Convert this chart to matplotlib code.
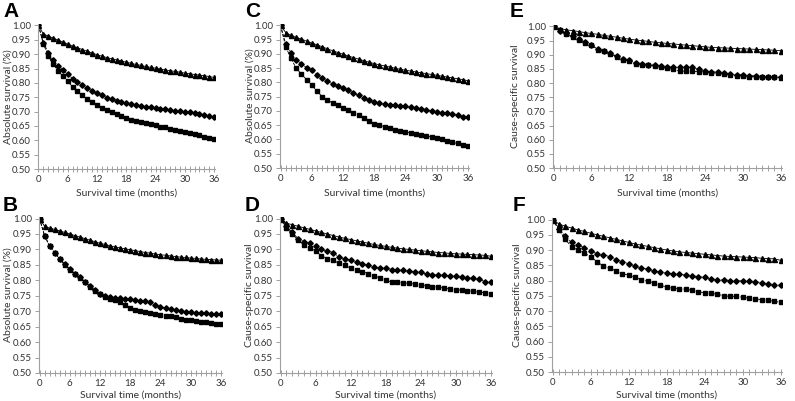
import numpy as np
import matplotlib
matplotlib.use("Agg")
import matplotlib.pyplot as plt
from matplotlib.ticker import MultipleLocator

# Meses 0..36
meses = list(range(37))

# Panel A - supervivencia absoluta
a_tri = [1.000, 0.970, 0.963, 0.956, 0.949, 0.942, 0.935, 0.928, 0.922, 0.916, 0.910, 0.904, 0.898,
         0.893, 0.888, 0.884, 0.880, 0.876, 0.872, 0.868, 0.864, 0.861, 0.857, 0.854, 0.851,
         0.848, 0.845, 0.842, 0.840, 0.837, 0.834, 0.832, 0.829, 0.827, 0.825, 0.822, 0.819]
a_dia = [1.000, 0.940, 0.905, 0.878, 0.860, 0.845, 0.830, 0.815, 0.802, 0.791, 0.781, 0.772, 0.764,
         0.756, 0.749, 0.743, 0.738, 0.733, 0.729, 0.725, 0.722, 0.720, 0.717, 0.715, 0.712,
         0.710, 0.708, 0.705, 0.703, 0.701, 0.699, 0.697, 0.694, 0.692, 0.688, 0.684, 0.682]
a_sq = [1.000, 0.935, 0.895, 0.865, 0.843, 0.823, 0.805, 0.786, 0.770, 0.756, 0.745, 0.733, 0.723,
        0.713, 0.705, 0.697, 0.690, 0.683, 0.677, 0.672, 0.667, 0.663, 0.659, 0.655, 0.652,
        0.648, 0.645, 0.641, 0.637, 0.633, 0.630, 0.626, 0.622, 0.618, 0.613, 0.608, 0.604]

# Panel B - supervivencia absoluta
b_tri = [1.000, 0.975, 0.969, 0.965, 0.960, 0.955, 0.950, 0.945, 0.940, 0.935, 0.930, 0.925, 0.920,
         0.916, 0.912, 0.908, 0.905, 0.902, 0.899, 0.896, 0.893, 0.890, 0.888, 0.885, 0.883,
         0.881, 0.879, 0.877, 0.875, 0.874, 0.872, 0.871, 0.869, 0.868, 0.867, 0.866, 0.865]
b_dia = [1.000, 0.945, 0.912, 0.890, 0.870, 0.852, 0.837, 0.822, 0.810, 0.796, 0.782, 0.768, 0.757,
         0.750, 0.746, 0.744, 0.743, 0.740, 0.738, 0.735, 0.733, 0.733, 0.730, 0.721, 0.715,
         0.710, 0.706, 0.703, 0.700, 0.698, 0.697, 0.695, 0.694, 0.693, 0.692, 0.692, 0.692]
b_sq = [1.000, 0.945, 0.910, 0.888, 0.868, 0.850, 0.835, 0.820, 0.808, 0.794, 0.780, 0.766, 0.755,
        0.747, 0.741, 0.735, 0.729, 0.720, 0.712, 0.705, 0.700, 0.696, 0.693, 0.690, 0.687,
        0.685, 0.683, 0.680, 0.676, 0.673, 0.670, 0.668, 0.665, 0.664, 0.662, 0.660, 0.658]

# Panel C - supervivencia absoluta
c_tri = [1.000, 0.975, 0.965, 0.958, 0.952, 0.945, 0.938, 0.932, 0.925, 0.918, 0.911, 0.905, 0.899,
         0.893, 0.887, 0.882, 0.876, 0.871, 0.866, 0.862, 0.858, 0.854, 0.850, 0.846, 0.843,
         0.840, 0.837, 0.834, 0.831, 0.828, 0.825, 0.822, 0.819, 0.816, 0.813, 0.810, 0.806]
c_dia = [1.000, 0.935, 0.905, 0.880, 0.865, 0.852, 0.842, 0.825, 0.815, 0.805, 0.795, 0.788, 0.780,
         0.772, 0.763, 0.755, 0.745, 0.738, 0.733, 0.728, 0.725, 0.722, 0.720, 0.718, 0.716,
         0.713, 0.710, 0.708, 0.705, 0.700, 0.696, 0.694, 0.692, 0.690, 0.685, 0.680, 0.678]
c_sq = [1.000, 0.925, 0.885, 0.850, 0.830, 0.810, 0.790, 0.770, 0.750, 0.738, 0.728, 0.720, 0.712,
        0.703, 0.694, 0.685, 0.675, 0.665, 0.655, 0.650, 0.645, 0.640, 0.635, 0.631, 0.627,
        0.623, 0.620, 0.617, 0.613, 0.609, 0.605, 0.600, 0.595, 0.590, 0.586, 0.582, 0.578]

# Panel D - supervivencia especifica por causa
d_tri = [1.000, 0.985, 0.980, 0.975, 0.970, 0.965, 0.960, 0.955, 0.950, 0.945, 0.940, 0.936, 0.932,
         0.928, 0.924, 0.920, 0.916, 0.913, 0.910, 0.907, 0.904, 0.902, 0.900, 0.898, 0.896,
         0.894, 0.892, 0.890, 0.889, 0.887, 0.886, 0.885, 0.884, 0.883, 0.882, 0.881, 0.878]
d_dia = [1.000, 0.975, 0.955, 0.935, 0.925, 0.920, 0.910, 0.900, 0.895, 0.890, 0.875, 0.870, 0.865,
         0.860, 0.853, 0.848, 0.843, 0.840, 0.840, 0.835, 0.833, 0.832, 0.830, 0.828, 0.826,
         0.820, 0.818, 0.818, 0.816, 0.815, 0.813, 0.810, 0.808, 0.806, 0.803, 0.796, 0.794]
d_sq = [1.000, 0.970, 0.950, 0.930, 0.915, 0.905, 0.895, 0.880, 0.870, 0.865, 0.855, 0.848, 0.840,
        0.835, 0.828, 0.822, 0.815, 0.808, 0.800, 0.795, 0.793, 0.792, 0.790, 0.788, 0.786,
        0.783, 0.780, 0.778, 0.775, 0.773, 0.770, 0.768, 0.766, 0.764, 0.762, 0.760, 0.757]

# Panel E - supervivencia especifica por causa
e_tri = [1.000, 0.992, 0.988, 0.985, 0.982, 0.978, 0.975, 0.972, 0.968, 0.965, 0.962, 0.958, 0.955,
         0.952, 0.950, 0.947, 0.944, 0.942, 0.940, 0.938, 0.936, 0.934, 0.932, 0.930, 0.928,
         0.926, 0.925, 0.924, 0.923, 0.922, 0.921, 0.920, 0.919, 0.918, 0.917, 0.916, 0.914]
e_dia = [1.000, 0.985, 0.975, 0.965, 0.955, 0.945, 0.935, 0.920, 0.912, 0.905, 0.895, 0.885, 0.880,
         0.872, 0.868, 0.865, 0.863, 0.860, 0.858, 0.855, 0.855, 0.855, 0.855, 0.848, 0.842,
         0.840, 0.838, 0.835, 0.832, 0.830, 0.828, 0.826, 0.825, 0.823, 0.823, 0.822, 0.822]
e_sq = [1.000, 0.988, 0.972, 0.962, 0.952, 0.943, 0.933, 0.918, 0.912, 0.903, 0.893, 0.882, 0.878,
        0.868, 0.865, 0.862, 0.860, 0.855, 0.852, 0.848, 0.842, 0.842, 0.842, 0.840, 0.838,
        0.836, 0.834, 0.832, 0.828, 0.826, 0.825, 0.823, 0.822, 0.820, 0.820, 0.820, 0.819]

# Panel F - supervivencia especifica por causa
f_tri = [1.000, 0.985, 0.978, 0.972, 0.966, 0.961, 0.955, 0.950, 0.945, 0.940, 0.935, 0.930, 0.925,
         0.920, 0.916, 0.912, 0.908, 0.904, 0.900, 0.897, 0.894, 0.892, 0.890, 0.888, 0.886,
         0.884, 0.882, 0.880, 0.879, 0.878, 0.877, 0.876, 0.875, 0.873, 0.872, 0.871, 0.866]
f_dia = [1.000, 0.970, 0.945, 0.925, 0.915, 0.908, 0.898, 0.888, 0.885, 0.878, 0.868, 0.862, 0.855,
         0.848, 0.840, 0.838, 0.830, 0.828, 0.825, 0.822, 0.820, 0.818, 0.815, 0.813, 0.810,
         0.805, 0.803, 0.802, 0.800, 0.800, 0.798, 0.797, 0.796, 0.793, 0.787, 0.785, 0.785]
f_sq = [1.000, 0.965, 0.935, 0.910, 0.900, 0.890, 0.878, 0.862, 0.847, 0.840, 0.832, 0.822, 0.818,
        0.810, 0.803, 0.797, 0.793, 0.785, 0.778, 0.775, 0.772, 0.772, 0.768, 0.763, 0.760,
        0.758, 0.755, 0.750, 0.748, 0.748, 0.745, 0.742, 0.740, 0.737, 0.735, 0.732, 0.728]

letras = ["A", "B", "C", "D", "E", "F"]
etiquetas_y = ["Absolute survival (%)", "Absolute survival (%)", "Absolute survival (%)",
               "Cause-specific survival", "Cause-specific survival", "Cause-specific survival"]
series = [(a_tri, a_dia, a_sq), (b_tri, b_dia, b_sq), (c_tri, c_dia, c_sq),
          (d_tri, d_dia, d_sq), (e_tri, e_dia, e_sq), (f_tri, f_dia, f_sq)]

W, H = 795, 401
# caja de cada panel en pixeles: izquierda, derecha, arriba, abajo
cajas = [(38, 215, 24, 169), (39, 222, 217, 373), (280, 469, 24, 168),
         (280, 492, 217, 373), (553, 782, 25, 168), (552, 782, 218, 372)]
pos_letra = [(3, 2), (3, 196), (245, 2), (245, 196), (510, 2), (513, 196)]
pos_ylab = [8, 8, 250, 250, 515, 517]
pos_xlab = [193, 395, 193, 395, 193, 395]

plt.rcParams["font.family"] = ["Lato", "DejaVu Sans"]
fig = plt.figure(figsize=(W / 100, H / 100), dpi=100)

gris = "#a0a0a0"
texto = "#333333"
for i in range(6):
    izq, der, arr, aba = cajas[i]
    ax = fig.add_axes([izq / W, 1 - aba / H, (der - izq) / W, (aba - arr) / H])
    tri, dia, sq = series[i]
    ax.plot(meses, sq, color="black", ls="--", lw=0.6, marker="s", ms=3.0, mec="black")
    ax.plot(meses, dia, color="black", ls="--", lw=0.6, marker="D", ms=2.8, mec="black")
    ax.plot(meses, tri, color="black", ls="-", lw=0.6, marker="^", ms=3.6, mec="black")

    ax.set_xlim(-0.1, 36.2)
    ax.set_ylim(0.50, 1.005)
    ax.set_xticks(range(0, 37, 6))
    ax.xaxis.set_minor_locator(MultipleLocator(1))
    ax.set_yticks(np.arange(0.50, 1.001, 0.05))
    ax.set_yticklabels(["%.2f" % v for v in np.arange(0.50, 1.001, 0.05)])
    for s in ["top", "right"]:
        ax.spines[s].set_visible(False)
    for s in ["left", "bottom"]:
        ax.spines[s].set_color(gris)
        ax.spines[s].set_linewidth(0.8)
    ax.tick_params(axis="both", which="both", colors=gris, labelcolor=texto, labelsize=7, width=0.7)
    ax.tick_params(axis="y", length=3, pad=2)
    ax.tick_params(axis="x", which="major", direction="inout", length=5, pad=1.5)
    ax.tick_params(axis="x", which="minor", direction="inout", length=4)

    fig.text((izq + der) / 2 / W, 1 - pos_xlab[i] / H, "Survival time (months)",
             ha="center", va="center", fontsize=7.5, color=texto)
    fig.text(pos_ylab[i] / W, 1 - (arr + aba) / 2 / H, etiquetas_y[i], rotation=90,
             ha="center", va="center", fontsize=7.5, color=texto)
    fig.text(pos_letra[i][0] / W, 1 - pos_letra[i][1] / H, letras[i], ha="left", va="top",
             fontsize=15, fontweight="bold", family="Liberation Sans")

fig.savefig("out.png", dpi=100)
